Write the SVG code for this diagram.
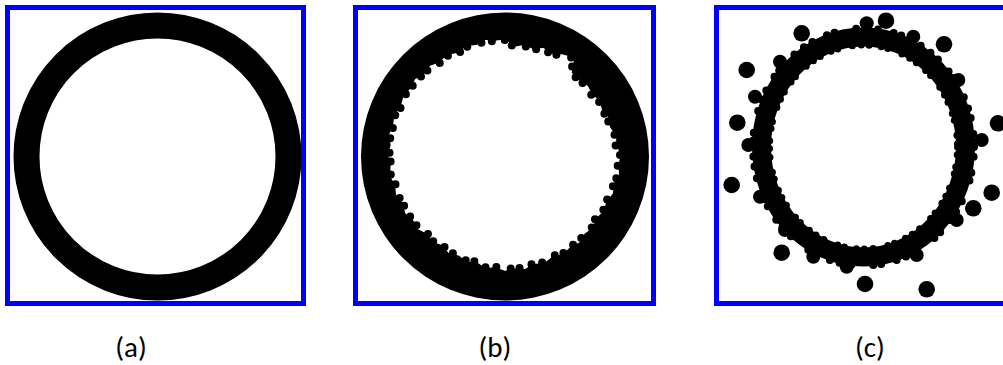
<svg xmlns="http://www.w3.org/2000/svg" width="1003" height="365" viewBox="0 0 1003 365">
<style>
.frame{fill:none;stroke:#0000FF;stroke-width:5}
.lbl{font-family:Carlito,"Open Sans",sans-serif;font-size:29px;fill:#000;text-anchor:middle}
.dot{fill:#000}
</style>
<defs>
<polygon id="inner-b" points="620,155 617.6,164.7 618.3,174.6 613.2,183.5 612.2,193.3 605.8,201.1 603.1,210.5 595.5,217.9 592,227.4 584.1,233.1 579,241.8 570.1,246.1 563,253.5 552.1,255.8 544.3,262.2 533.5,263.2 524.6,268.3 514.7,267.6 505,270 495.4,266.6 485.6,267.3 477,261.3 467,261.3 459.4,254.9 449,252.3 442.6,244.6 433.3,241.3 427.6,233.4 418,228.4 413.7,219.5 406,213 403.3,202.5 396.8,194.6 395.8,184.7 390.7,175.8 391.4,164.8 389,155 391.4,145.2 389.7,135 393.8,125.8 394.9,115.7 401.5,106.7 404.3,96 411.3,88.8 415.7,79.7 424.5,74.5 430.4,66.4 439.9,62.9 447,56 458.5,53.3 466.4,46.8 476.3,45.8 485.2,40.7 495.2,41.4 505,40 514.2,47.4 523.9,45.7 532.7,49.6 543,48.7 551.1,54.2 561.5,55.1 573.5,58 571,73 579.8,81.2 587.4,86.5 591.4,94.9 598.8,101 601.3,110 607.5,117.4 609.4,127.6 615.3,135.9 615.6,145.5"/>
</defs>
<rect width="1003" height="365" fill="#fff"/>
<g id="panel-a">
<rect class="frame" x="7.5" y="7.5" width="296" height="296"/>
<circle cx="157.5" cy="156.5" r="131" fill="none" stroke="#000" stroke-width="26"/>
<text class="lbl" x="131" y="357">(a)</text>
</g>
<g id="panel-b">
<rect class="frame" x="355.5" y="7.5" width="298" height="296"/>
<circle cx="505" cy="156.5" r="144" fill="#000"/>
<use href="#inner-b" fill="#fff" stroke="#fff" stroke-width="1.5" stroke-linejoin="round"/>
<use href="#inner-b" fill="none" stroke="#000" stroke-width="8" stroke-dasharray="0 11 0 13 0 9 0 15" stroke-linecap="round" stroke-linejoin="round"/>
<text class="lbl" x="495" y="357">(b)</text>
</g>
<g id="panel-c">
<rect class="frame" x="716.5" y="7.5" width="300" height="296"/>
<ellipse cx="863.5" cy="147" rx="102" ry="110" fill="none" stroke="#000" stroke-width="19"/>
<ellipse cx="863.5" cy="147" rx="94" ry="102" fill="none" stroke="#000" stroke-width="7" stroke-dasharray="0 8 0 12 0 7 0 15 0 9" stroke-linecap="round"/>
<ellipse cx="863.5" cy="147" rx="110.5" ry="118.5" fill="none" stroke="#000" stroke-width="8" stroke-dasharray="0 10 0 16 0 8 0 22 0 12" stroke-linecap="round"/>
<g class="dot">
<circle cx="780" cy="61.7" r="7"/>
<circle cx="755" cy="96.7" r="7"/>
<circle cx="748.3" cy="145" r="7"/>
<circle cx="760" cy="196.7" r="7"/>
<circle cx="785" cy="230" r="7"/>
<circle cx="813.3" cy="256.7" r="7"/>
<circle cx="846.7" cy="266.7" r="7"/>
<circle cx="916.7" cy="255" r="7"/>
<circle cx="956.7" cy="220" r="7"/>
<circle cx="981.7" cy="140" r="7"/>
<circle cx="958.3" cy="80" r="7"/>
<circle cx="913.3" cy="36.7" r="7"/>
<circle cx="866.7" cy="23.3" r="7"/>
<circle cx="801.7" cy="33.3" r="8.3"/>
<circle cx="746.7" cy="70" r="8.3"/>
<circle cx="737.3" cy="122.7" r="8.3"/>
<circle cx="731.7" cy="185" r="8.3"/>
<circle cx="781.7" cy="252.7" r="8.3"/>
<circle cx="865" cy="284" r="8.3"/>
<circle cx="926.7" cy="289.3" r="8.3"/>
<circle cx="991.7" cy="192.7" r="8.3"/>
<circle cx="998" cy="123.3" r="8.3"/>
<circle cx="944" cy="44.3" r="8.3"/>
<circle cx="886" cy="20.7" r="8.3"/>
<circle cx="973.3" cy="208.3" r="8.3"/>
</g>
<text class="lbl" x="870" y="357">(c)</text>
</g>
</svg>
